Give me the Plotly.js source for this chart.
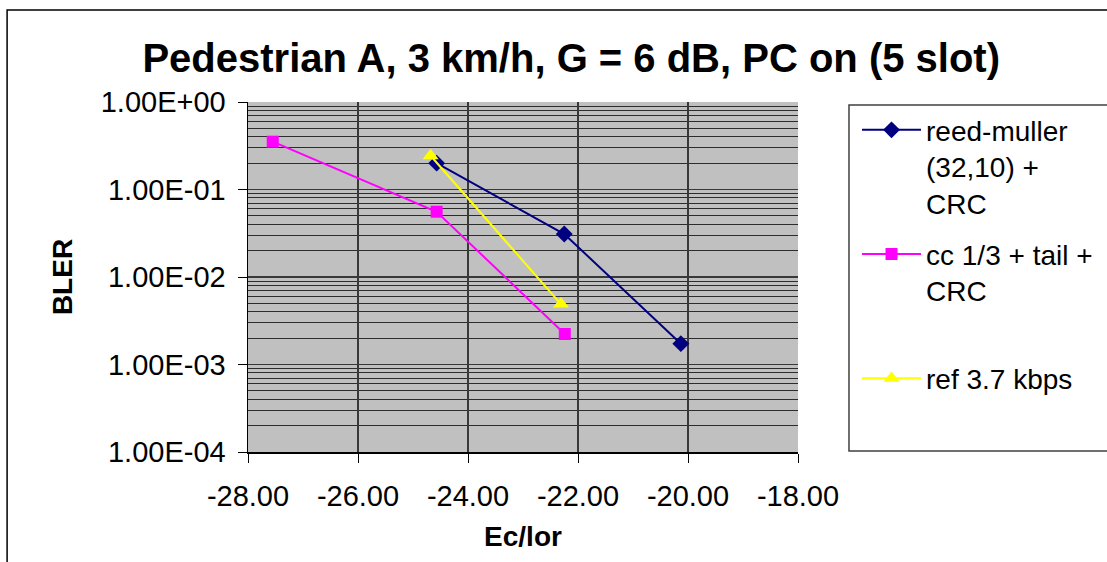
<!DOCTYPE html>
<html>
<head>
<meta charset="utf-8">
<script src="https://cdn.plot.ly/plotly-3.0.1.min.js"></script>
<style>html,body{margin:0;padding:0;background:#fff;}#chart{width:1107px;height:562px;}</style>
</head>
<body>
<div id="chart"></div>
<script>
// ---- data ----
const rmName = "reed-muller<br>(32,10) +<br>CRC";
const rmX = [-24.57, -22.25, -20.13];
const rmY = [0.20, 0.031, 0.00173];

const ccName = "cc 1/3 + tail +<br>CRC<br>&nbsp;";
const ccX = [-27.55, -24.57, -22.24];
const ccY = [0.352, 0.0557, 0.00223];

const refName = "ref 3.7 kbps<br>&nbsp;";
const refX = [-24.68, -22.31];
const refY = [0.243, 0.0049];

const xTickVals = [-28, -26, -24, -22, -20, -18];
const xTickText = ["-28.00", "-26.00", "-24.00", "-22.00", "-20.00", "-18.00"];
const yTickVals = [1e-4, 1e-3, 1e-2, 1e-1, 1];
const yTickText = ["1.00E-04", "1.00E-03", "1.00E-02", "1.00E-01", "1.00E+00"];

const FONT = "Liberation Sans, Arial, sans-serif";

const traces = [
  {x: rmX, y: rmY, name: rmName, legendgroup: "a", mode: "lines+markers",
   line: {color: "#000080", width: 2}, marker: {symbol: "diamond", size: 13, color: "#000080"}},
  {x: ccX, y: ccY, name: ccName, legendgroup: "b", mode: "lines+markers",
   line: {color: "#ff00ff", width: 2}, marker: {symbol: "square", size: 12, color: "#ff00ff"}},
  {x: refX, y: refY, name: refName, legendgroup: "c", mode: "lines+markers",
   line: {color: "#ffff00", width: 2}, marker: {symbol: "triangle-up", size: 14, color: "#ffff00"}}
];

const layout = {
  width: 1107, height: 562,
  paper_bgcolor: "#ffffff", plot_bgcolor: "#c0c0c0",
  margin: {l: 248, r: 309, t: 102, b: 110, autoexpand: false},
  font: {family: FONT, color: "#000", size: 28},
  title: {text: "Pedestrian A, 3 km/h, G = 6 dB, PC on (5 slot)", xref: "container", x: 0.516, xanchor: "center",
          yref: "container", y: 0.897, yanchor: "middle", font: {family: FONT, size: 40, weight: "bold", color: "#000"}},
  xaxis: {range: [-28, -18], tickmode: "array", tickvals: xTickVals, ticktext: xTickText,
          showgrid: true, gridcolor: "#383838", gridwidth: 1.5, zeroline: false,
          showline: true, linecolor: "#000", linewidth: 1.5, ticks: "outside", ticklen: 9, tickcolor: "#000",
          tickfont: {size: 29}, ticklabelstandoff: 9,
          title: {text: "Ec/lor", font: {size: 28, weight: "bold"}, standoff: 15}},
  yaxis: {type: "log", range: [-4, 0], tickmode: "array", tickvals: yTickVals, ticktext: yTickText,
          showgrid: true, gridcolor: "#383838", gridwidth: 1.5, zeroline: false,
          showline: true, linecolor: "#000", linewidth: 1.5, ticks: "outside", ticklen: 9, tickcolor: "#000",
          tickfont: {size: 29}, ticklabelstandoff: 6,
          minor: {dtick: "D1", showgrid: true, gridcolor: "#2c2c2c", gridwidth: 1, ticks: ""},
          title: {text: "BLER", font: {size: 28, weight: "bold"}, standoff: 20}},
  legend: {x: 1.1073, xanchor: "left", y: 0.991, yanchor: "top", valign: "top",
           bgcolor: "rgba(0,0,0,0)", borderwidth: 0, itemwidth: 59,
           font: {size: 28, family: FONT}, tracegroupgap: 12},
  shapes: [
    {type: "rect", xref: "paper", yref: "paper", x0: -0.438, x1: 1.7, y0: -0.4, y1: 1.263,
     line: {color: "#000", width: 1.5}, fillcolor: "rgba(0,0,0,0)"},
    {type: "rect", xref: "paper", yref: "paper", x0: 1.0927, x1: 1.7, y0: 0.0029, y1: 0.9914,
     line: {color: "#404040", width: 1.5}, fillcolor: "#ffffff", layer: "below"}
  ],
  showlegend: true
};

Plotly.newPlot("chart", traces, layout, {staticPlot: true});
</script>
</body>
</html>
